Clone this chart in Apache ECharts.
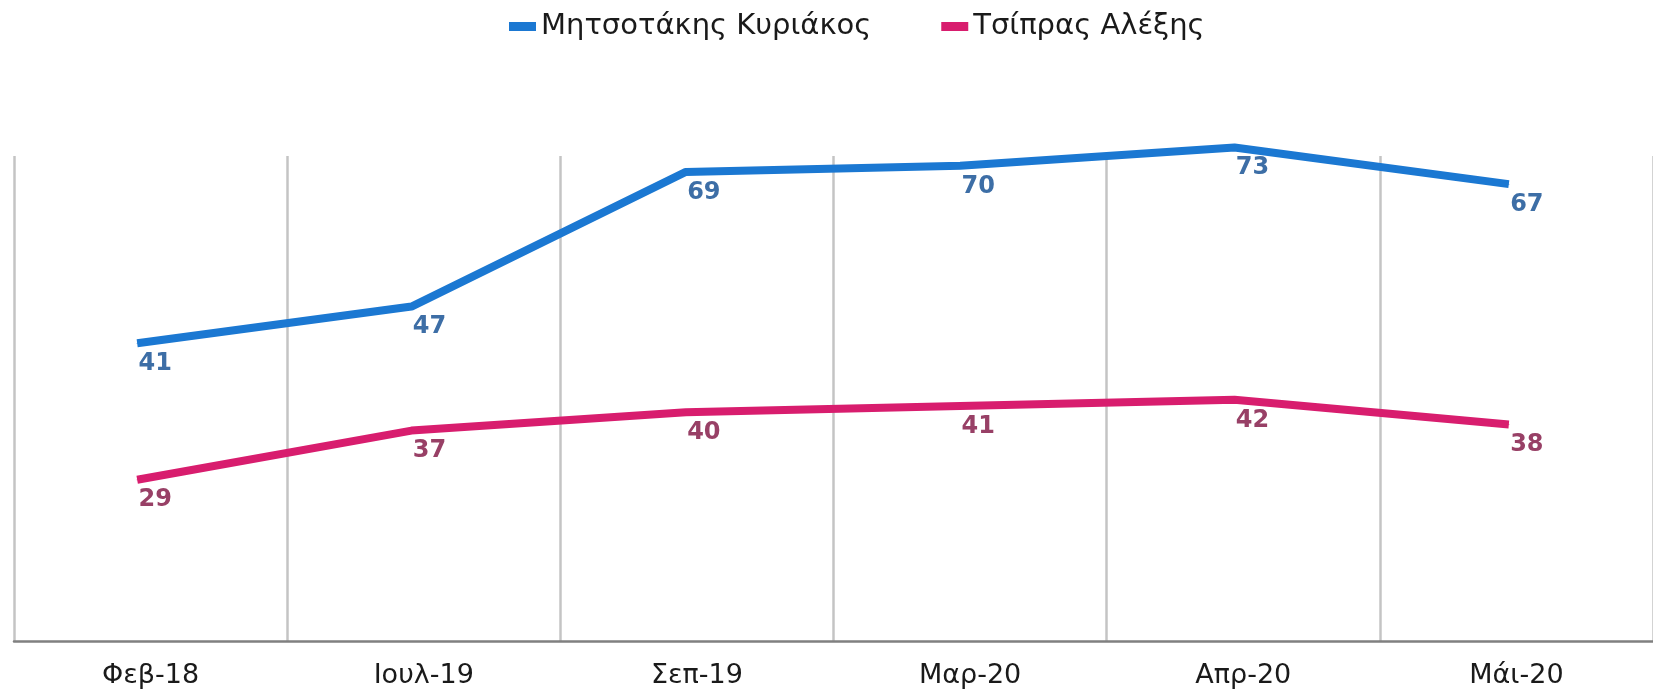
<!DOCTYPE html>
<html>

<head>
    <meta charset="utf-8">
    <script type="text/javascript" src="https://cdn.jsdelivr.net/npm/echarts@6/dist/echarts.min.js"></script>
    <style>
        html, body {
            margin: 0;
            padding: 0;
            background: #fff;
        }

        #container {
            width: 1653px;
            height: 694px;
        }
    </style>
</head>

<body>
    <div id="container"></div>
</body>
<script type="text/javascript">
    // data
    var months = ['Φεβ-18', 'Ιουλ-19', 'Σεπ-19', 'Μαρ-20', 'Απρ-20', 'Μάι-20'];
    var mitsotakis = [41, 47, 69, 70, 73, 67];
    var tsipras = [29, 37, 40, 41, 42, 38];
    var seriesNames = ['Μητσοτάκης Κυριάκος', 'Τσίπρας Αλέξης'];

    createChart();

    function createChart() {
        var dom = document.getElementById('container');
        var myChart = echarts.init(dom, null, { renderer: 'canvas' });
        var labelFont = {
            fontFamily: 'DejaVu Sans',
            fontWeight: 'bold',
            fontSize: 24
        };
        var option = {
            animation: false,
            backgroundColor: '#fff',
            legend: {
                left: 509,
                top: 12,
                padding: 0,
                icon: 'rect',
                itemWidth: 27,
                itemHeight: 9,
                itemGap: 70,
                textStyle: {
                    fontFamily: 'DejaVu Sans',
                    fontSize: 29,
                    color: '#1a1a1a'
                },
                data: seriesNames
            },
            // grid 0 draws the axis and the vertical lines, grid 1 the series
            grid: [
                { left: 14, right: -11, top: 156, bottom: 53 },
                { left: -4, right: 7, top: 156, bottom: 53 }
            ],
            xAxis: [{
                type: 'category',
                gridIndex: 0,
                data: months,
                boundaryGap: true,
                axisTick: { show: false },
                axisLine: {
                    lineStyle: { color: '#808080', width: 2.5 }
                },
                axisLabel: {
                    margin: 21,
                    fontFamily: 'DejaVu Sans',
                    fontSize: 27,
                    color: '#1a1a1a'
                },
                splitLine: {
                    show: true,
                    lineStyle: { color: '#c4c4c4', width: 2.5 }
                }
            }, {
                type: 'category',
                gridIndex: 1,
                data: months,
                boundaryGap: true,
                show: false
            }],
            yAxis: [{
                type: 'value',
                gridIndex: 0,
                show: false,
                splitLine: { show: false }
            }, {
                type: 'value',
                gridIndex: 1,
                show: false,
                min: -7.65,
                max: 71.6,
                splitLine: { show: false }
            }, {
                type: 'value',
                gridIndex: 1,
                show: false,
                min: 2.74,
                max: 81.7,
                splitLine: { show: false }
            }],
            series: [{
                name: seriesNames[0],
                type: 'line',
                xAxisIndex: 1,
                yAxisIndex: 1,
                data: mitsotakis,
                clip: false,
                symbol: 'circle',
                symbolSize: 1,
                color: '#1b78d2',
                lineStyle: { width: 8, color: '#1b78d2' },
                label: Object.assign({
                    show: true,
                    position: 'bottom',
                    distance: 8,
                    offset: [18, 0],
                    color: '#3d6ea6'
                }, labelFont)
            }, {
                name: seriesNames[1],
                type: 'line',
                xAxisIndex: 1,
                yAxisIndex: 2,
                data: tsipras,
                clip: false,
                symbol: 'circle',
                symbolSize: 1,
                color: '#d81d6e',
                lineStyle: { width: 8, color: '#d81d6e' },
                label: Object.assign({
                    show: true,
                    position: 'bottom',
                    distance: 8,
                    offset: [18, 0],
                    color: '#984066'
                }, labelFont)
            }]
        };
        myChart.setOption(option, true);
    }
</script>

</html>
